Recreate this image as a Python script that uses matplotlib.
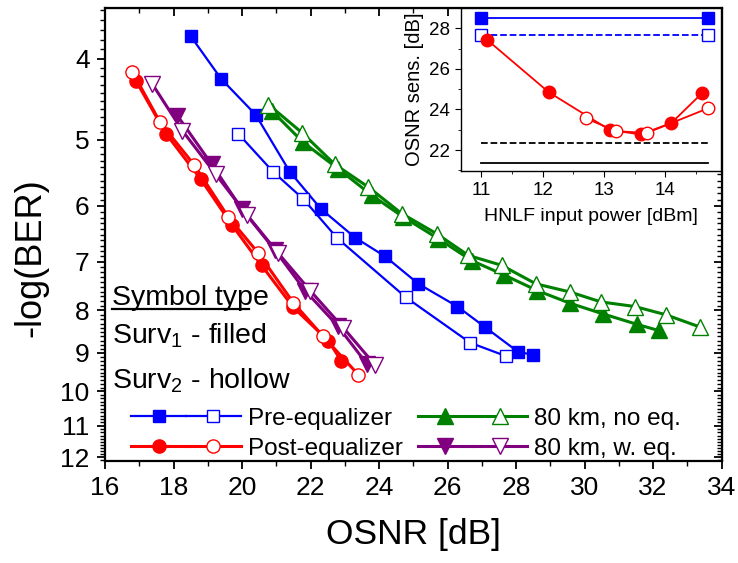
import numpy as np
import matplotlib
matplotlib.use('Agg')
from matplotlib import pyplot as plt
from matplotlib.ticker import FixedLocator, MultipleLocator, NullFormatter, FuncFormatter
from matplotlib.legend_handler import HandlerTuple
from matplotlib.lines import Line2D

plt.rcParams['font.family'] = 'Liberation Sans'
plt.rcParams['mathtext.fontset'] = 'custom'
plt.rcParams['mathtext.rm'] = 'Liberation Sans'
plt.rcParams['mathtext.it'] = 'Liberation Sans:italic'

# ---- main plot data: OSNR [dB] vs -log(BER) ----
pre_s1_x = [18.50, 19.39, 20.40, 21.39, 22.30, 23.30, 24.18, 25.15, 26.29, 27.09, 28.07, 28.49]
pre_s1_y = [3.76, 4.23, 4.67, 5.46, 6.05, 6.55, 6.90, 7.44, 7.92, 8.38, 8.98, 9.04]
pre_s2_x = [19.89, 20.90, 21.79, 22.78, 24.78, 26.66, 27.71]
pre_s2_y = [4.92, 5.46, 5.89, 6.56, 7.72, 8.75, 9.08]

post_s1_x = [16.90, 17.78, 18.80, 19.70, 20.57, 21.50, 22.52, 22.89]
post_s1_y = [4.25, 4.92, 5.58, 6.32, 7.07, 7.94, 8.70, 9.19]
post_s2_x = [16.80, 17.61, 18.60, 19.60, 20.48, 21.50, 22.37, 23.40]
post_s2_y = [4.15, 4.77, 5.36, 6.19, 6.84, 7.84, 8.60, 9.56]

noeq_s1_x = [20.87, 21.79, 22.81, 23.79, 24.71, 25.73, 26.71, 27.65, 28.62, 29.58, 30.53, 31.54, 32.16]
noeq_s1_y = [4.62, 5.04, 5.42, 5.83, 6.19, 6.57, 6.98, 7.26, 7.58, 7.85, 8.08, 8.32, 8.46]
noeq_s2_x = [20.77, 21.76, 22.70, 23.69, 24.66, 25.68, 26.61, 27.58, 28.58, 29.58, 30.48, 31.47, 32.37, 33.37]
noeq_s2_y = [4.54, 4.91, 5.35, 5.70, 6.13, 6.48, 6.88, 7.07, 7.44, 7.61, 7.82, 7.92, 8.10, 8.38]

weq_s1_x = [18.11, 19.11, 19.99, 20.96, 21.84, 22.79, 23.64]
weq_s1_y = [4.68, 5.35, 6.05, 6.78, 7.58, 8.35, 9.27]
weq_s2_x = [17.38, 18.26, 19.23, 20.14, 21.06, 21.99, 22.96, 23.88]
weq_s2_y = [4.29, 4.88, 5.50, 6.15, 6.84, 7.58, 8.40, 9.30]

y_major = [4, 5, 6, 7, 8, 9, 10, 11, 12]
legend_labels = ['Pre-equalizer', 'Post-equalizer', '80 km, no eq.', '80 km, w. eq.']

# ---- inset data: HNLF input power [dBm] vs OSNR sensitivity [dB] ----
ref_pre_x = [11.0, 14.7]
ref_pre_s1 = [28.52, 28.52]
ref_pre_s2 = [27.66, 27.66]
ins_s1_x = [11.1, 12.1, 13.1, 13.6, 14.1, 14.6]
ins_s1_y = [27.42, 24.85, 22.98, 22.77, 23.33, 24.80]
ins_s2_x = [12.7, 13.2, 13.7, 14.7]
ins_s2_y = [23.57, 22.93, 22.84, 24.06]
ref_b2b_dash = [22.36, 22.36]
ref_b2b_solid = [21.35, 21.35]

BLUE = '#0000ff'
RED = '#ff0000'
GREEN = '#008000'
PURPLE = '#800080'

fig = plt.figure(figsize=(7.38, 5.63), dpi=100)
ax = fig.add_axes([0.1423, 0.1812, 0.8354, 0.8046])


def pair(x1, y1, x2, y2, color, m, ms, lw):
    a, = ax.plot(x1, y1, '-', color=color, lw=lw, marker=m, ms=ms,
                 mfc=color, mec=color, mew=1.0)
    b, = ax.plot(x2, y2, '-', color=color, lw=lw, marker=m, ms=ms,
                 mfc='white', mec=color, mew=1.0)
    return (a, b)


h_pre = pair(pre_s1_x, pre_s1_y, pre_s2_x, pre_s2_y, BLUE, 's', 9, 1.6)
h_post = pair(post_s1_x, post_s1_y, post_s2_x, post_s2_y, RED, 'o', 9.5, 2.2)
h_noeq = pair(noeq_s1_x, noeq_s1_y, noeq_s2_x, noeq_s2_y, GREEN, '^', 11, 2.2)
h_weq = pair(weq_s1_x, weq_s1_y, weq_s2_x, weq_s2_y, PURPLE, 'v', 11, 2.2)

ax.set_yscale('log')
ax.set_xlim(16, 34)
ax.set_ylim(12.12, 3.48)
ax.xaxis.set_major_locator(MultipleLocator(2))
ax.xaxis.set_minor_locator(MultipleLocator(1))
ax.yaxis.set_major_locator(FixedLocator(y_major))
ax.yaxis.set_major_formatter(FuncFormatter(lambda v, p: '%d' % round(v)))
ax.yaxis.set_minor_locator(FixedLocator(np.arange(3.5, 12.15, 0.1)))
ax.yaxis.set_minor_formatter(NullFormatter())
ax.tick_params(which='major', direction='out', length=6, width=1.3, labelsize=19, pad=5)
ax.tick_params(which='minor', direction='out', length=3.5, width=1.0)
for s in ax.spines.values():
    s.set_linewidth(1.6)

top = ax.secondary_xaxis('top')
top.xaxis.set_major_locator(MultipleLocator(2))
top.xaxis.set_minor_locator(MultipleLocator(1))
top.tick_params(which='both', direction='in', labeltop=False)
top.tick_params(which='major', length=6, width=1.3)
top.tick_params(which='minor', length=3.5, width=1.0)
right = ax.secondary_yaxis('right')
right.yaxis.set_major_locator(FixedLocator(y_major))
right.yaxis.set_minor_locator(FixedLocator(np.arange(3.5, 12.15, 0.1)))
right.yaxis.set_minor_formatter(NullFormatter())
right.tick_params(which='both', direction='in', labelright=False)
right.tick_params(which='major', length=6, width=1.3)
right.tick_params(which='minor', length=3.5, width=1.0)

ax.set_xlabel('OSNR [dB]', fontsize=25.5)
ax.xaxis.set_label_coords(0.5, -0.126)
ax.set_ylabel('-log(BER)', fontsize=26)
ax.yaxis.set_label_coords(-0.0925, 0.448)

# symbol-type note
ax.text(0.012, 0.345, 'Symbol type', transform=ax.transAxes, fontsize=20.5, va='baseline')
ax.add_line(Line2D([0.012, 0.233], [0.336, 0.336], transform=ax.transAxes, color='black', lw=1.6))
ax.text(0.012, 0.259, r'Surv$_{\mathregular{1}}$ - filled', transform=ax.transAxes, fontsize=20.5, va='baseline')
ax.text(0.012, 0.161, r'Surv$_{\mathregular{2}}$ - hollow', transform=ax.transAxes, fontsize=20.5, va='baseline')

ax.legend([h_pre, h_post, h_noeq, h_weq], legend_labels, ncol=2,
          handler_map={tuple: HandlerTuple(ndivide=None, pad=0)},
          loc='lower left', bbox_to_anchor=(0.035, -0.008), frameon=False,
          fontsize=17.5, handlelength=4.5, handletextpad=0.3,
          columnspacing=0.6, labelspacing=0.32, borderpad=0.2, borderaxespad=0)

# ---- inset ----
ins = fig.add_axes([0.6247, 0.6968, 0.3523, 0.289])
ins.plot(ref_pre_x, ref_pre_s1, '-', color=BLUE, lw=1.3, marker='s', ms=8, mfc=BLUE, mec=BLUE)
ins.plot(ref_pre_x, ref_pre_s2, '--', color=BLUE, lw=1.3, marker='s', ms=8, mfc='white', mec=BLUE, mew=1.0)
ins.plot(ref_pre_x, ref_b2b_dash, '--', color='black', lw=1.3)
ins.plot(ref_pre_x, ref_b2b_solid, '-', color='black', lw=1.3)
ins.plot(ins_s1_x, ins_s1_y, '-', color=RED, lw=1.3, marker='o', ms=9, mfc=RED, mec=RED)
ins.plot(ins_s2_x, ins_s2_y, '-', color=RED, lw=1.3, marker='o', ms=9, mfc='white', mec=RED, mew=1.0)
ins.set_xlim(10.67, 14.91)
ins.set_ylim(20.98, 29.0)
ins.xaxis.set_major_locator(MultipleLocator(1))
ins.xaxis.set_minor_locator(MultipleLocator(0.5))
ins.yaxis.set_major_locator(MultipleLocator(2))
ins.yaxis.set_minor_locator(MultipleLocator(1))
ins.tick_params(which='both', direction='out', labelsize=13.5, pad=4)
ins.tick_params(which='major', length=4)
ins.tick_params(which='minor', length=2.5)
for s in ins.spines.values():
    s.set_linewidth(1.0)
ins.set_xlabel('HNLF input power [dBm]', fontsize=14)
ins.xaxis.set_label_coords(0.5, -0.229)
ins.set_ylabel('OSNR sens. [dB]', fontsize=14.5)
ins.yaxis.set_label_coords(-0.142, 0.5)

fig.savefig('out.png', dpi=100)
